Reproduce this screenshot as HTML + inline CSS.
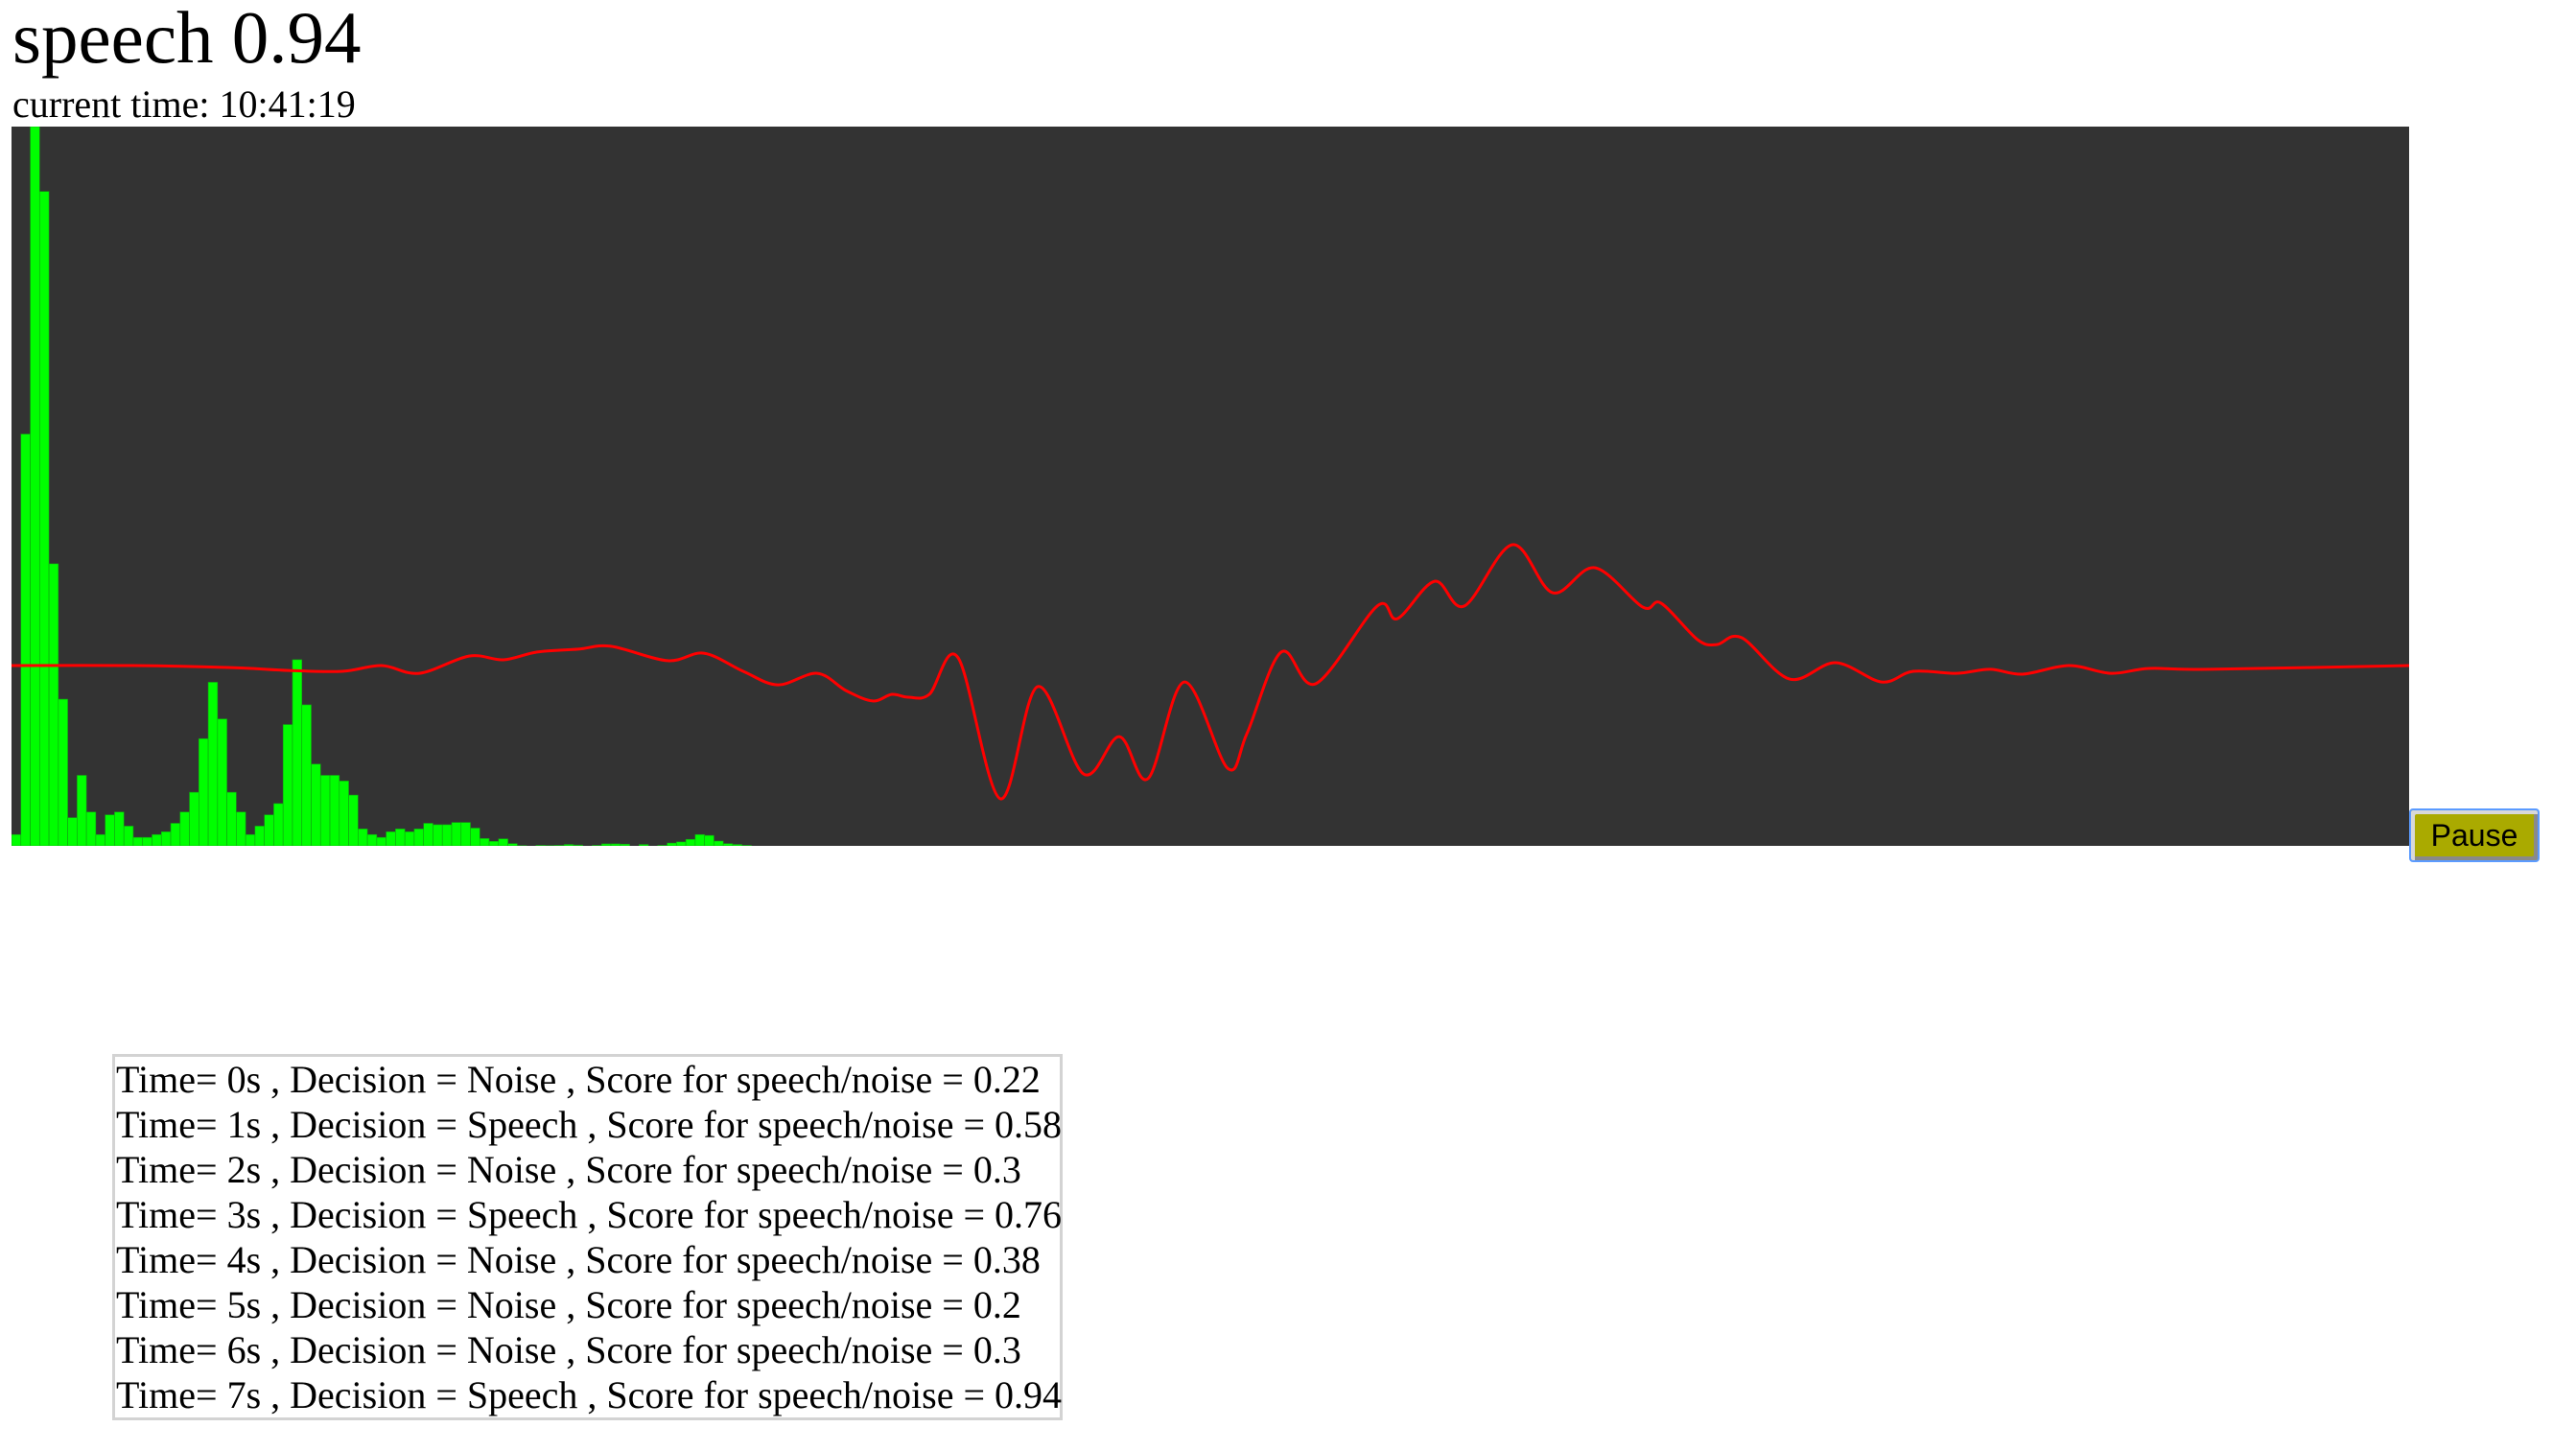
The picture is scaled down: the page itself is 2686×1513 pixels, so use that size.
<!DOCTYPE html>
<html>
<head>
<meta charset="utf-8">
<style>
  html,body{margin:0;padding:0;background:#fff;}
  body{width:2686px;height:1513px;position:relative;overflow:hidden;font-family:"Liberation Serif",serif;color:#000;}
  #title{position:absolute;left:13px;top:-6px;font-size:77px;line-height:90px;white-space:nowrap;}
  #clock{position:absolute;left:13px;top:86px;font-size:40px;line-height:46px;white-space:nowrap;}
  #chart{position:absolute;left:12px;top:132px;}
  #pause{position:absolute;left:2512px;top:843px;width:136px;height:56px;box-sizing:border-box;
    border:2px solid #5b9bff;border-radius:4px;background:#aaaa00;padding:0;
    box-shadow:inset 4px 4px 0 #d8d8d8, inset -4px -4px 0 #8a8a8a;
    font-family:"Liberation Sans",sans-serif;font-size:32px;line-height:50px;text-align:center;color:#000;}
  #log{position:absolute;left:117px;top:1099px;width:991px;height:382px;box-sizing:border-box;
    border:3px solid #d3d3d3;padding:0 0 0 1px;font-size:40px;line-height:47px;white-space:nowrap;}
  #log div{height:47px;}
</style>
</head>
<body>
<div id="title">speech 0.94</div>
<div id="clock">current time: 10:41:19</div>

<svg id="chart" width="2500" height="750">
  <rect x="0" y="0" width="2500" height="750" fill="#333333"></rect>
  <g id="bars"></g>
  <path id="wave" fill="none" stroke="#ff0000" stroke-width="3"></path>
</svg>

<button id="pause">Pause</button>

<div id="log">
  <div>Time= 0s , Decision = Noise , Score for speech/noise = 0.22</div>
  <div>Time= 1s , Decision = Speech , Score for speech/noise = 0.58</div>
  <div>Time= 2s , Decision = Noise , Score for speech/noise = 0.3</div>
  <div>Time= 3s , Decision = Speech , Score for speech/noise = 0.76</div>
  <div>Time= 4s , Decision = Noise , Score for speech/noise = 0.38</div>
  <div>Time= 5s , Decision = Noise , Score for speech/noise = 0.2</div>
  <div>Time= 6s , Decision = Noise , Score for speech/noise = 0.3</div>
  <div>Time= 7s , Decision = Speech , Score for speech/noise = 0.94</div>
</div>

<script>
// Spectrum bin magnitudes (0..255), bins beyond the list are 0
const binValues = [4,146,255,232,100,52,10,25,12,4,11,12,7,3,3,4,5,8,12,19,38,58,45,19,12,4,7,11,15,43,66,50,29,25,25,23,18,6,4,3,5,6,5,6,8,7.5,7.5,8.3,8.3,6.3,2.6,1.6,2.5,0.8,0.1,0,0.2,0.1,0.2,0.5,0.3,0,0.2,0.7,0.7,0.6,0,0.5,0,0.2,1,1.4,2.3,4,3.7,1.7,0.8,0.5,0.2];
const binCount = 256;
const binMax = 255;
// Waveform: sample index (0..1024) and amplitude (-1..1)
const waveSamples = [0,51.6,93.8,118.4,141.3,158.1,174.1,195.4,210.1,224.5,242.1,256,280.2,295.7,312.5,327.3,344.1,356.4,367.8,376,383,392,404.3,422.3,438.3,457.9,473.1,485.4,500.9,519.4,527.6,542.3,557.1,583.3,591.9,607.8,620.5,641,658.2,676.2,696.7,704.5,720.1,728.3,738.9,759.4,779,798.7,812.2,830.7,845,858.9,878.6,896.6,913,938.8,1024];
const waveValues = [0,0,-0.007,-0.017,-0.02,0,-0.027,0.033,0.02,0.047,0.057,0.067,0.017,0.043,-0.02,-0.067,-0.027,-0.087,-0.123,-0.1,-0.11,-0.1,0.027,-0.463,-0.073,-0.377,-0.247,-0.393,-0.057,-0.357,-0.237,0.047,-0.063,0.207,0.163,0.293,0.207,0.42,0.253,0.34,0.203,0.217,0.09,0.073,0.097,-0.047,0.01,-0.057,-0.02,-0.027,-0.013,-0.03,0,-0.027,-0.01,-0.013,0];
const sampleCount = 1024;

const W = 2500, H = 750;
const xBin = i => i * W / binCount;
const yBin = v => H - v / binMax * H;
const xSample = s => s / sampleCount * W;
const yWave = v => 562 - v * 300;

const NS = 'http://www.w3.org/2000/svg';
const g = document.getElementById('bars');
const bw = W / binCount;
for (let i = 0; i < binCount; i++) {
  const v = i < binValues.length ? binValues[i] : 0;
  if (v <= 0) continue;
  const r = document.createElementNS(NS, 'rect');
  
  
  const y = yBin(v);
  r.setAttribute('x', xBin(i));
  r.setAttribute('y', y);
  r.setAttribute('width', bw);
  r.setAttribute('height', H - y);
  r.setAttribute('fill', '#00ff00');
  r.setAttribute('stroke', '#12a012');
  r.setAttribute('stroke-width', '0.6');
  g.appendChild(r);
}

// Catmull-Rom smooth path through waveform points
const pts = waveSamples.map((s, i) => [xSample(s), yWave(waveValues[i])]);
let d = 'M' + pts[0][0] + ',' + pts[0][1];
for (let i = 0; i < pts.length - 1; i++) {
  const p0 = pts[Math.max(0, i - 1)], p1 = pts[i], p2 = pts[i + 1], p3 = pts[Math.min(pts.length - 1, i + 2)];
  const c1x = p1[0] + (p2[0] - p0[0]) / 6, c1y = p1[1] + (p2[1] - p0[1]) / 6;
  const c2x = p2[0] - (p3[0] - p1[0]) / 6, c2y = p2[1] - (p3[1] - p1[1]) / 6;
  d += ' C' + c1x + ',' + c1y + ' ' + c2x + ',' + c2y + ' ' + p2[0] + ',' + p2[1];
}
document.getElementById('wave').setAttribute('d', d);
</script>
</body>
</html>
